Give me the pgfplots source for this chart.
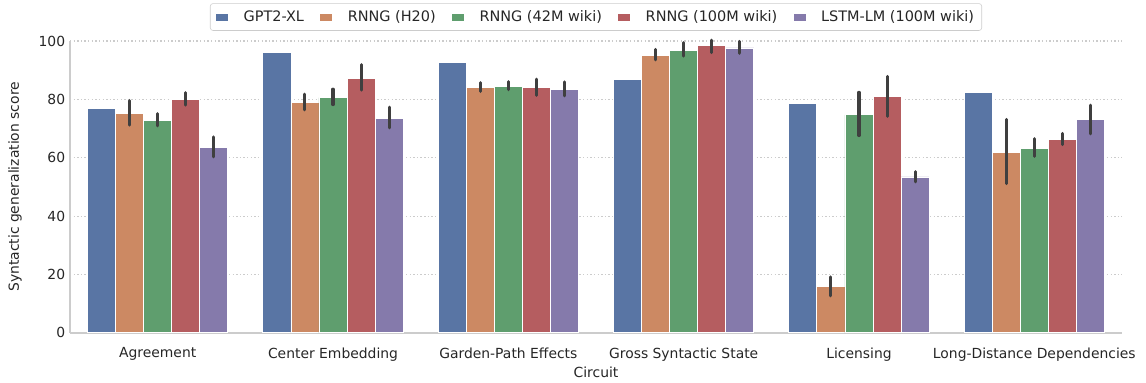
\documentclass[border=0pt]{standalone}
\usepackage{fontspec}
\setmainfont{DejaVu Sans}
\usepackage{pgfplots}
\pgfplotsset{compat=1.18}
\definecolor{cblue}{RGB}{89,117,164}
\definecolor{corange}{RGB}{204,137,99}
\definecolor{cgreen}{RGB}{95,158,110}
\definecolor{cred}{RGB}{181,93,96}
\definecolor{cpurple}{RGB}{133,122,171}
\definecolor{txt}{RGB}{38,38,38}
\definecolor{spine}{RGB}{204,204,204}
\definecolor{errc}{RGB}{63,63,63}
\begin{document}
\begin{tikzpicture}
\begin{axis}[
  width=757pt, height=210pt, scale only axis,
  ybar, bar width=0.16,
  xmin=-0.5, xmax=5.5, ymin=0, ymax=100,
  xtick={0,1,2,3,4,5},
  xticklabels={Agreement, Center Embedding, Garden-Path Effects, Gross Syntactic State, Licensing, Long-Distance Dependencies},
  ytick={0,20,40,60,80,100},
  axis x line*=bottom, axis y line*=left,
  axis line style={spine, line width=1pt, -},
  major tick length=0pt,
  ymajorgrids, grid style={spine, line width=0.8pt, dash pattern=on 1pt off 1.6pt},
  tick label style={font=\fontsize{10}{12}\selectfont, text=txt},
  xticklabel style={yshift=-7pt},
  /pgf/number format/assume math mode=true,
  xlabel={Circuit}, ylabel={Syntactic generalization score},
  label style={font=\fontsize{10}{12}\selectfont, text=txt},
  ylabel style={at={(axis description cs:-0.0523,0.5)}, anchor=center},
  xlabel style={at={(axis description cs:0.5,-0.134)}, anchor=center},
  clip=false,
  legend columns=5,
  legend style={at={(0.5,1.035)}, anchor=south, draw=spine, rounded corners=2pt,
    font=\fontsize{10.4}{12}\selectfont, text=txt, inner xsep=3.5pt, inner ysep=3pt,
    /tikz/every even column/.append style={column sep=9pt},
    /tikz/every odd column/.append style={column sep=8.5pt}},
  legend image code/.code={\fill[#1, sharp corners] (0pt,-2.9pt) rectangle (9.4pt,2.9pt);},
  every axis plot/.append style={draw=white, line width=0.6pt},
]
\addplot[fill=cblue, bar shift=-0.32] coordinates {(0,77.0) (1,96.2) (2,92.6) (3,86.7) (4,78.5) (5,82.4)};
\addplot[fill=corange, bar shift=-0.16,
  error bars/.cd, y dir=both, y explicit, error mark=none,
  error bar style={line width=2.2pt, errc, line cap=round}] coordinates {
  (0,75.2) += (0,4.4) -= (0,4.0)
  (1,78.9) += (0,2.9) -= (0,2.5)
  (2,84.0) += (0,1.7) -= (0,1.3)
  (3,95.1) += (0,2.0) -= (0,1.6)
  (4,15.9) += (0,3.3) -= (0,3.2)
  (5,61.9) += (0,11.2) -= (0,10.8)};
\addplot[fill=cgreen, bar shift=0,
  error bars/.cd, y dir=both, y explicit, error mark=none,
  error bar style={line width=2.2pt, errc, line cap=round}] coordinates {
  (0,72.9) += (0,2.2) -= (0,2.0)
  (1,80.6) += (0,2.9) -= (0,2.4)
  (2,84.4) += (0,1.7) -= (0,1.1)
  (3,96.9) += (0,2.5) -= (0,2.1)
  (4,74.7) += (0,7.7) -= (0,7.1)
  (5,63.2) += (0,3.3) -= (0,2.7)};
\addplot[fill=cred, bar shift=0.16,
  error bars/.cd, y dir=both, y explicit, error mark=none,
  error bar style={line width=2.2pt, errc, line cap=round}] coordinates {
  (0,79.9) += (0,2.4) -= (0,1.9)
  (1,87.3) += (0,4.6) -= (0,4.1)
  (2,84.0) += (0,2.9) -= (0,2.6)
  (3,98.4) += (0,1.9) -= (0,2.4)
  (4,80.9) += (0,7.0) -= (0,6.7)
  (5,66.2) += (0,2.1) -= (0,1.7)};
\addplot[fill=cpurple, bar shift=0.32,
  error bars/.cd, y dir=both, y explicit, error mark=none,
  error bar style={line width=2.2pt, errc, line cap=round}] coordinates {
  (0,63.5) += (0,3.6) -= (0,3.2)
  (1,73.5) += (0,3.8) -= (0,3.3)
  (2,83.4) += (0,2.6) -= (0,2.2)
  (3,97.6) += (0,2.3) -= (0,1.8)
  (4,53.4) += (0,1.8) -= (0,1.7)
  (5,73.0) += (0,5.0) -= (0,4.8)};
\legend{GPT2-XL, RNNG (H20), RNNG (42M wiki), RNNG (100M wiki), LSTM-LM (100M wiki)}
\path (rel axis cs:0,0) ++(-50.4pt,-36pt) coordinate (bbsw);
\path (rel axis cs:1,1) ++(17.3pt,29.5pt) coordinate (bbne);
\end{axis}
\path (bbsw) (bbne);
\end{tikzpicture}
\end{document}
